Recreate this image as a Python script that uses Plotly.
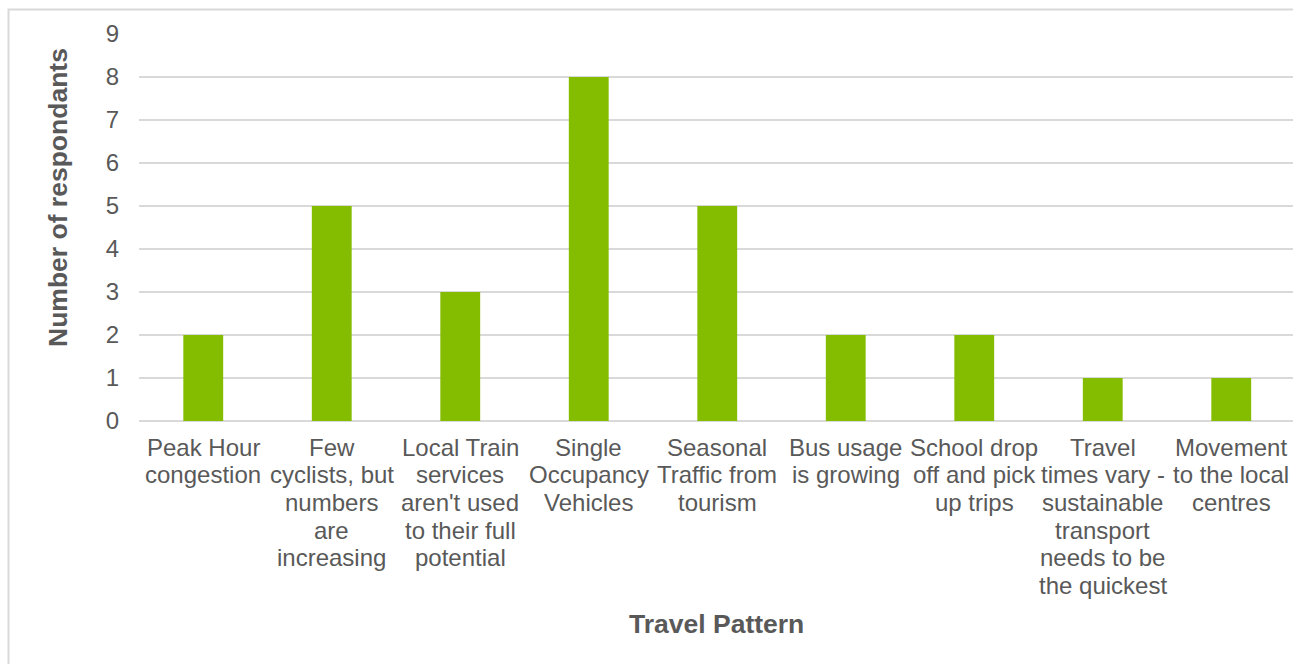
import plotly.graph_objects as go

categories = [
    "Peak Hour<br>congestion",
    "Few<br>cyclists, but<br>numbers<br>are<br>increasing",
    "Local Train<br>services<br>aren't used<br>to their full<br>potential",
    "Single<br>Occupancy<br>Vehicles",
    "Seasonal<br>Traffic from<br>tourism",
    "Bus usage<br>is growing",
    "School drop<br>off and pick<br>up trips",
    "Travel<br>times vary -<br>sustainable<br>transport<br>needs to be<br>the quickest",
    "Movement<br>to the local<br>centres",
]
respondents = [2, 5, 3, 8, 5, 2, 2, 1, 1]
y_ticks = list(range(0, 10))

W, H = 1293, 664
ML, MR, MT, MB = 139, 0, 34, 243
pw, ph = W - ML - MR, H - MT - MB
slot = 128.5        # pixel width of one category slot
line_step = 27.7    # category label line spacing in pixels
first_line = 447    # pixel row of the first category label line

TEXT = "#595959"
GRID = "#D9D9D9"
GREEN = "#84BD00"
FONT = "Liberation Sans, Arial, sans-serif"
TICK_SIZE = 24
TITLE_SIZE = 26.5

positions = list(range(len(categories)))

fig = go.Figure(
    go.Bar(
        x=positions,
        y=respondents,
        marker=dict(color=GREEN, line=dict(width=0)),
        width=0.31,
    )
)

fig.update_layout(
    width=W,
    height=H,
    margin=dict(l=ML, r=MR, t=MT, b=MB, pad=0),
    paper_bgcolor="white",
    plot_bgcolor="white",
    showlegend=False,
    font=dict(family=FONT, size=TICK_SIZE, color=TEXT),
)

fig.update_xaxes(
    tickmode="array",
    tickvals=positions,
    range=[-0.5, -0.5 + pw / slot],
    showticklabels=False,
    showgrid=False,
    zeroline=False,
    showline=False,
    ticks="",
)

fig.update_yaxes(
    range=[0, 9],
    tickmode="array",
    tickvals=y_ticks,
    showgrid=True,
    gridcolor=GRID,
    gridwidth=2,
    zeroline=True,
    zerolinecolor=GRID,
    zerolinewidth=2,
    showline=False,
    ticks="",
    ticklabelstandoff=19,
    tickfont=dict(size=TICK_SIZE, color=TEXT),
)


def px_x(x):
    return (x - ML) / pw


def px_y(y):
    return (H - MB - y) / ph


# category labels, one text line at a time for tighter line spacing
for pos, label in zip(positions, categories):
    for k, line in enumerate(label.split("<br>")):
        fig.add_annotation(
            text=line, xref="x", yref="paper",
            x=pos, y=px_y(first_line + k * line_step),
            showarrow=False, xanchor="center", yanchor="middle",
            font=dict(size=TICK_SIZE, color=TEXT, family=FONT),
        )

# chart-area frame (top and left edges)
fig.add_shape(
    type="rect", xref="paper", yref="paper",
    x0=px_x(8.5), x1=px_x(1320), y0=px_y(700), y1=px_y(9.5),
    line=dict(color=GRID, width=2), fillcolor="rgba(0,0,0,0)", layer="below",
)

fig.add_annotation(
    text="<b>Travel Pattern</b>", xref="paper", yref="paper",
    x=px_x(716), y=px_y(624), showarrow=False,
    font=dict(size=TITLE_SIZE, color=TEXT, family=FONT),
    xanchor="center", yanchor="middle",
)
fig.add_annotation(
    text="<b>Number of respondants</b>", xref="paper", yref="paper",
    x=px_x(58), y=px_y(198), showarrow=False, textangle=-90,
    font=dict(size=TITLE_SIZE, color=TEXT, family=FONT),
    xanchor="center", yanchor="middle",
)

fig.write_html("out.html")
